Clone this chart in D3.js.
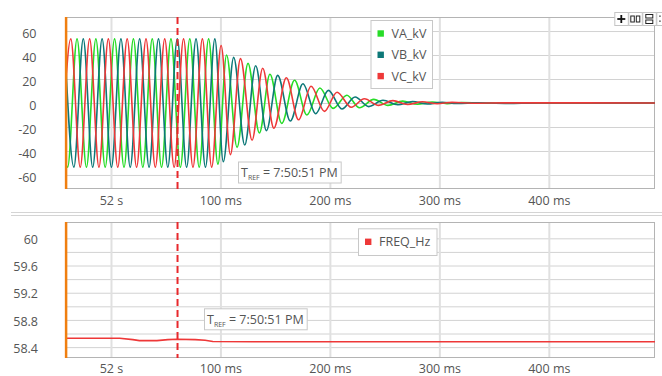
<!DOCTYPE html>
<html><head><meta charset="utf-8">
<script src="https://cdn.jsdelivr.net/npm/d3@7"></script>
<style>
html,body{margin:0;padding:0;background:#fff;}
svg{display:block;font-family:"Open Sans","Noto Sans",sans-serif;}
</style></head><body>
<svg id="chart" width="662" height="376"></svg>
<script>
// Phase voltage turning points: [ms after 52 s, kV]
const vaKV = [[-48.2,53.5],[-39.6,-53.5],[-31.0,53.5],[-22.4,-53.5],[-13.8,53.5],[-5.3,-53.5],[3.3,53.5],[11.9,-53.5],[20.5,53.5],[29.1,-53.5],[37.7,53.5],[46.2,-53.5],[54.8,53.5],[63.4,-53.5],[72.0,53.5],[80.6,-53.5],[89.2,53.5],[97.7,-51],[105.6,40],[115.2,-37],[125.2,33],[135.6,-25],[145.2,24],[156.0,-17],[167.7,19],[179.0,-10],[190.8,12.5],[203.0,-4.5],[215.5,6.5],[227.0,-4],[240.0,3],[253.0,-2],[266.5,1.6],[280.0,-1],[293.5,0.8],[307.0,-0.5],[320.5,0.4],[340,-0.2],[370,0.1],[500,0]];
const vbKV = [[-42.5,53.5],[-33.9,-53.5],[-25.3,53.5],[-16.7,-53.5],[-8.1,53.5],[0.4,-53.5],[9.1,53.5],[17.6,-53.5],[26.2,53.5],[34.8,-53.5],[43.4,53.5],[51.9,-53.5],[60.6,53.5],[69.1,-53.5],[77.7,53.5],[86.3,-53.5],[94.9,53.5],[102.6,-49],[112.1,38],[122.2,-35],[132.2,31],[142.0,-23],[152.3,23],[163.8,-15],[175.4,16],[187.0,-9],[198.6,10.5],[211.0,-5],[223.0,5],[235.5,-3],[248.5,2.3],[262.0,-1.5],[275.5,1.3],[289.0,-0.8],[302.5,0.6],[316.0,-0.4],[335,0.2],[360,-0.3],[390,0.1],[500,0]];
const vcKV = [[-45.3,-53.5],[-36.7,53.5],[-28.1,-53.5],[-19.5,53.5],[-11.0,-53.5],[-2.4,53.5],[6.2,-53.5],[14.8,53.5],[23.4,-53.5],[32.0,53.5],[40.5,-53.5],[49.1,53.5],[57.7,-53.5],[66.3,53.5],[74.9,-53.5],[83.5,53.5],[92.0,-53.5],[100.6,48],[109.1,-43],[118.3,37],[128.9,-31],[138.6,29],[148.8,-21],[160.2,21],[171.4,-14],[182.8,14],[195.0,-7],[206.5,9],[219.5,-3.5],[231.5,3.5],[244.5,-2],[257.5,2],[271.0,-1.2],[284.5,1],[298.0,-0.6],[311.5,0.5],[330,-0.2],[360,0.1],[500,0]];
// Frequency trace: [ms after 52 s, Hz]
const freqHz = [[-42,58.53],[8,58.53],[20,58.51],[26,58.495],[42,58.495],[52,58.51],[60,58.515],[77,58.51],[86,58.5],[93,58.482],[130,58.48],[497,58.48]];

const voltNames = ["VA_kV","VB_kV","VC_kV"];
const voltColors = ["#27dc27","#0d7878","#ee3838"];
const freqName = "FREQ_Hz";
const freqColor = "#ee3838";

const xTicks = [0,100,200,300,400];
const xTickLabels = ["52 s","100 ms","200 ms","300 ms","400 ms"];
const kvTicks = [-60,-40,-20,0,20,40,60];
const hzGrid = [58.4,58.6,58.8,59.0,59.2,59.4,59.6,59.8,60.0];
const hzTicks = [58.4,58.8,59.2,59.6,60.0];
const hzTickLabels = ["58.4","58.8","59.2","59.6","60"];

const cursorStartMs = -41;
const cursorRefMs = 60.8;
const refTime = "7:50:51 PM";

const svg = d3.select("#chart");
const L = 65, R = 655;
const x = d3.scaleLinear().domain([-42, 497]).range([L, R]);
const yKV = d3.scaleLinear().domain([-71.7, 71.7]).range([189, 17]);
const yHz = d3.scaleLinear().domain([58.24, 60.24]).range([358, 222]);
const textCol = "#555";

function panel(id, y, gridVals, tickVals, tickLabels, labelRight, labelDy, xLabelY) {
  const top = y.range()[1], bot = y.range()[0];
  const g = svg.append("g");
  svg.append("clipPath").attr("id", id).append("rect")
    .attr("x", L).attr("y", top).attr("width", R - L).attr("height", bot - top);

  // horizontal grid
  g.append("g").attr("transform", `translate(${L},0)`)
    .call(d3.axisLeft(y).tickValues(gridVals).tickSize(-(R - L)).tickFormat(""))
    .call(a => a.select(".domain").remove())
    .call(a => a.selectAll("line").attr("stroke", "#d2d2d2").attr("stroke-width", 1));
  // vertical grid
  g.append("g").attr("transform", `translate(0,${bot})`)
    .call(d3.axisBottom(x).tickValues(xTicks).tickSize(-(bot - top)).tickFormat(""))
    .call(a => a.select(".domain").remove())
    .call(a => a.selectAll("line").attr("stroke", "#e0e0e0").attr("stroke-width", 2));

  // y labels
  g.append("g").attr("transform", `translate(${L},0)`)
    .call(d3.axisLeft(y).tickValues(tickVals).tickSize(0).tickPadding(L - labelRight)
      .tickFormat((d, i) => tickLabels[i]))
    .call(a => a.select(".domain").remove())
    .call(a => a.selectAll("text").attr("fill", textCol).attr("font-size", 12.5)
      .attr("font-family", '"Open Sans",sans-serif').attr("dy", labelDy));
  // x labels
  g.append("g").attr("transform", `translate(0,${xLabelY})`)
    .call(d3.axisBottom(x).tickValues(xTicks).tickSize(0).tickPadding(0)
      .tickFormat((d, i) => xTickLabels[i]))
    .call(a => a.select(".domain").remove())
    .call(a => a.selectAll("text").attr("fill", textCol).attr("font-size", 12.5)
      .attr("font-family", '"Open Sans",sans-serif').attr("dy", 0));

  // frame
  g.append("rect").attr("x", L + 0.5).attr("y", top + 0.5)
    .attr("width", R - L - 1).attr("height", bot - top - 1)
    .attr("fill", "none").attr("stroke", "#b4b4b4");
  return g;
}

function cursors(g, y) {
  const top = y.range()[1], bot = y.range()[0];
  g.append("line").attr("x1", x(cursorRefMs)).attr("x2", x(cursorRefMs))
    .attr("y1", top).attr("y2", bot)
    .attr("stroke", "#e8282c").attr("stroke-width", 2).attr("stroke-dasharray", "7,4");
  g.append("line").attr("x1", x(cursorStartMs)).attr("x2", x(cursorStartMs))
    .attr("y1", top).attr("y2", bot)
    .attr("stroke", "#f07f10").attr("stroke-width", 2.5);
}

function refBox(g, bx, by) {
  const bg = g.append("g");
  const rect = bg.append("rect").attr("fill", "#fff").attr("stroke", "#c8c8c8");
  const t = bg.append("text").attr("x", bx + 3).attr("y", by + 15.5)
    .attr("fill", textCol).attr("font-size", 12.5);
  t.append("tspan").text("T");
  t.append("tspan").attr("font-size", 7).attr("dy", 3).text("REF");
  t.append("tspan").attr("dy", -3).text(" = " + refTime);
  const w = t.node().getComputedTextLength();
  rect.attr("x", bx + 0.5).attr("y", by + 0.5).attr("width", w + 6).attr("height", 21);
}

function legend(g, bx, by, w, h, names, colors) {
  g.append("rect").attr("x", bx + 0.5).attr("y", by + 0.5).attr("width", w).attr("height", h)
    .attr("fill", "#fff").attr("stroke", "#c8c8c8");
  names.forEach((n, i) => {
    const cy = by + 13.5 + i * 21.3;
    g.append("rect").attr("x", bx + 7).attr("y", cy - 3.2).attr("width", 6.4).attr("height", 6.4)
      .attr("fill", colors[i]);
    g.append("text").attr("x", bx + 21).attr("y", cy + 4.5).attr("fill", textCol)
      .attr("font-size", 12.5).text(n);
  });
}

// ---- voltage panel
const gTop = panel("clipKV", yKV, kvTicks, kvTicks, kvTicks.map(String), 36.5, "0.5em", 204.5);
const lineKV = d3.line().x(d => x(d[0])).y(d => yKV(d[1])).curve(d3.curveMonotoneX);
const waves = gTop.append("g").attr("clip-path", "url(#clipKV)");
[vaKV, vbKV, vcKV].forEach((s, i) => {
  waves.append("path").datum(s).attr("d", lineKV).attr("fill", "none")
    .attr("stroke", voltColors[i]).attr("stroke-width", 1.6).attr("stroke-linejoin", "round");
});
cursors(gTop, yKV);
refBox(gTop, 238, 161.5);
legend(gTop, 370.5, 20, 61.5, 68, voltNames, voltColors);

// ---- panel splitter
svg.append("line").attr("x1", 11).attr("x2", 662).attr("y1", 212.5).attr("y2", 212.5)
  .attr("stroke", "#d4d4d4");
svg.append("line").attr("x1", 11).attr("x2", 662).attr("y1", 215.5).attr("y2", 215.5)
  .attr("stroke", "#d4d4d4");

// ---- frequency panel
const gBot = panel("clipHz", yHz, hzGrid, hzTicks, hzTickLabels, 38, "0.42em", 372.5);
const lineHz = d3.line().x(d => x(d[0])).y(d => yHz(d[1]));
gBot.append("g").attr("clip-path", "url(#clipHz)").append("path").datum(freqHz)
  .attr("d", lineHz).attr("fill", "none").attr("stroke", freqColor).attr("stroke-width", 1.6);
cursors(gBot, yHz);
refBox(gBot, 204, 308.3);
legend(gBot, 358, 228.3, 78.5, 26.7, [freqName], [freqColor]);

// ---- toolbar buttons
const tb = svg.append("g");
[614.3, 628.3, 642.3, 656.3].forEach((bx, i) => {
  tb.append("rect").attr("x", bx + 0.5).attr("y", 12.5).attr("width", 13.5).attr("height", 13)
    .attr("fill", "#fff").attr("stroke", "#c4c4c4");
  const cx = bx + 7, cy = 19;
  if (i === 0) {
    tb.append("rect").attr("x", cx - 4).attr("y", cy - 0.9).attr("width", 8).attr("height", 1.8).attr("fill", "#111");
    tb.append("rect").attr("x", cx - 0.9).attr("y", cy - 4).attr("width", 1.8).attr("height", 8).attr("fill", "#111");
  } else if (i === 1) {
    tb.append("rect").attr("x", cx - 4.5).attr("y", cy - 3).attr("width", 3.5).attr("height", 6).attr("fill", "none").attr("stroke", "#222").attr("stroke-width", 1);
    tb.append("rect").attr("x", cx + 1).attr("y", cy - 3).attr("width", 3.5).attr("height", 6).attr("fill", "none").attr("stroke", "#222").attr("stroke-width", 1);
  } else if (i === 2) {
    tb.append("rect").attr("x", cx - 3.5).attr("y", cy - 4.5).attr("width", 7).attr("height", 3.5).attr("fill", "none").attr("stroke", "#222").attr("stroke-width", 1);
    tb.append("rect").attr("x", cx - 3.5).attr("y", cy + 1).attr("width", 7).attr("height", 3.5).attr("fill", "none").attr("stroke", "#222").attr("stroke-width", 1);
  } else {
    tb.append("rect").attr("x", bx + 3).attr("y", cy - 3.5).attr("width", 1.3).attr("height", 1.3).attr("fill", "#222");
    tb.append("rect").attr("x", bx + 3).attr("y", cy + 1.5).attr("width", 1.3).attr("height", 1.3).attr("fill", "#222");
  }
});
</script>
</body></html>
